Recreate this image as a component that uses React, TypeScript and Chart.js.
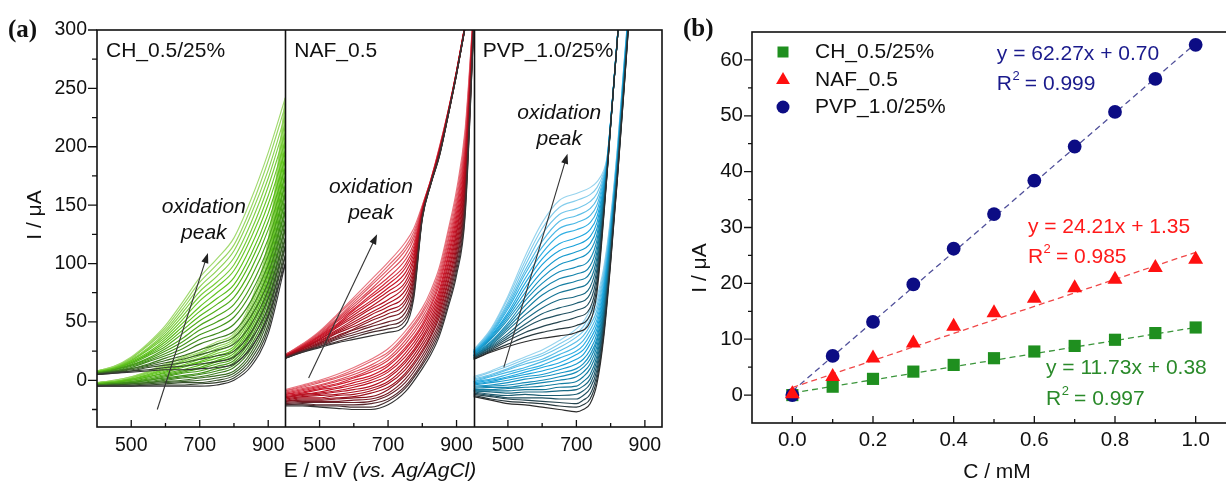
import React, { useEffect, useRef } from 'react';
import { Chart, registerables } from 'chart.js';

Chart.register(...registerables);

const FONT = '"Liberation Sans", Arial, Helvetica, sans-serif';
const SERIF = '"Liberation Serif", "Times New Roman", serif';

// ---------------- Panel (a): cyclic voltammograms ----------------
const SUB_TITLES = ['CH_0.5/25%', 'NAF_0.5', 'PVP_1.0/25%'];
const E_MIN = 400;
const E_MAX = 950;
const E_TICKS = [500, 700, 900];
const E_MINOR_TICKS = [600, 800];
const I_MIN = -40;
const I_MAX = 300;
const I_TICKS = [0, 50, 100, 150, 200, 250, 300];
const I_MINOR_TICKS = [-25, 25, 75, 125, 175, 225, 275];

// CH_0.5/25%  (forward = upper branch with oxidation peak, reverse = lower branch)
const CH_E = [400, 450, 500, 550, 600, 650, 700, 750, 800, 850, 900, 950];
const CH_FWD = [
  [5, 6, 7, 8, 9, 9, 10, 11, 14, 28, 55, 100],
  [5, 6, 8, 9, 11, 12, 14, 16, 20, 35, 62, 107],
  [5, 7, 8, 11, 13, 15, 18, 21, 25, 41, 70, 115],
  [5, 7, 9, 12, 15, 18, 22, 26, 31, 48, 77, 122],
  [6, 7, 10, 13, 17, 21, 26, 31, 37, 55, 84, 130],
  [6, 8, 10, 14, 19, 24, 31, 36, 42, 61, 92, 137],
  [6, 8, 11, 16, 21, 27, 35, 40, 48, 68, 99, 145],
  [6, 8, 12, 17, 23, 30, 39, 45, 54, 75, 107, 152],
  [6, 9, 13, 18, 25, 33, 43, 50, 59, 81, 114, 160],
  [6, 9, 13, 19, 27, 36, 47, 55, 65, 88, 121, 167],
  [7, 9, 14, 21, 29, 40, 51, 60, 71, 95, 129, 175],
  [7, 9, 15, 22, 31, 43, 55, 65, 77, 102, 136, 182],
  [7, 10, 15, 23, 33, 46, 59, 70, 82, 108, 143, 190],
  [7, 10, 16, 24, 35, 49, 63, 75, 88, 115, 151, 197],
  [7, 10, 17, 26, 37, 52, 68, 80, 94, 122, 158, 205],
  [7, 11, 17, 27, 39, 55, 72, 84, 99, 128, 166, 212],
  [8, 11, 18, 28, 41, 58, 76, 89, 105, 135, 173, 220],
  [8, 11, 19, 30, 43, 61, 80, 94, 111, 142, 180, 227],
  [8, 12, 19, 31, 45, 64, 84, 99, 116, 148, 188, 235],
  [8, 12, 20, 32, 47, 67, 88, 104, 122, 155, 195, 242],
];
const CH_REV = [
  [-5, -5, -5, -5, -5, -5, -5, -4, 0, 12, 40, 100],
  [-5, -5, -5, -4, -4, -4, -3, -2, 2, 15, 44, 107],
  [-5, -4, -4, -4, -3, -2, -2, 0, 4, 18, 48, 115],
  [-5, -4, -4, -3, -2, -1, 0, 2, 6, 21, 53, 122],
  [-4, -4, -3, -2, -1, 0, 2, 4, 8, 24, 57, 130],
  [-4, -4, -3, -2, 0, 2, 3, 6, 11, 27, 61, 137],
  [-4, -3, -2, -1, 1, 3, 5, 8, 13, 30, 65, 145],
  [-4, -3, -2, 0, 2, 4, 6, 10, 15, 33, 70, 152],
  [-4, -3, -2, 0, 3, 6, 8, 12, 17, 36, 74, 160],
  [-4, -3, -1, 1, 4, 7, 10, 14, 19, 39, 78, 167],
  [-3, -2, -1, 2, 5, 8, 11, 16, 21, 41, 82, 175],
  [-3, -2, 0, 3, 6, 9, 13, 17, 23, 44, 86, 182],
  [-3, -2, 0, 3, 7, 11, 15, 19, 25, 47, 91, 190],
  [-3, -2, 1, 4, 8, 12, 16, 21, 27, 50, 95, 197],
  [-3, -1, 1, 5, 9, 13, 18, 23, 29, 53, 99, 205],
  [-3, -1, 1, 5, 10, 15, 19, 25, 32, 56, 103, 212],
  [-2, -1, 2, 6, 11, 16, 21, 27, 34, 59, 107, 220],
  [-2, -1, 2, 7, 12, 17, 23, 29, 36, 62, 112, 227],
  [-2, 0, 3, 7, 13, 19, 24, 31, 38, 65, 116, 235],
  [-2, 0, 3, 8, 14, 20, 26, 33, 40, 68, 120, 242],
];

// NAF_0.5
const NAF_E_FWD = [400, 450, 500, 550, 600, 650, 700, 750, 775, 800, 825, 850, 875, 900, 925, 950];
const NAF_FWD = [
  [19, 24, 28, 32, 35, 38, 41, 47, 70, 138, 168, 192, 226, 262, 302, 343],
  [19, 24, 29, 33, 37, 41, 44, 51, 73, 139, 168, 192, 226, 262, 302, 343],
  [19, 25, 29, 35, 39, 43, 47, 54, 76, 139, 168, 193, 226, 262, 302, 343],
  [19, 25, 30, 36, 41, 46, 50, 58, 79, 140, 169, 193, 226, 262, 302, 343],
  [20, 25, 31, 37, 43, 48, 54, 62, 83, 141, 169, 193, 227, 263, 303, 344],
  [20, 26, 32, 38, 44, 51, 57, 66, 86, 141, 169, 194, 227, 263, 303, 344],
  [20, 26, 32, 40, 46, 53, 60, 69, 89, 142, 169, 195, 227, 263, 303, 344],
  [20, 27, 33, 41, 48, 56, 63, 73, 92, 142, 169, 195, 227, 263, 303, 344],
  [20, 27, 34, 42, 50, 58, 66, 77, 95, 143, 170, 195, 228, 263, 303, 344],
  [20, 27, 35, 43, 52, 61, 69, 81, 98, 144, 170, 196, 228, 263, 303, 344],
  [21, 28, 35, 45, 54, 63, 73, 84, 102, 144, 170, 196, 228, 264, 304, 344],
  [21, 28, 36, 46, 56, 66, 76, 88, 105, 145, 170, 196, 228, 264, 304, 344],
  [21, 28, 37, 47, 58, 68, 79, 92, 108, 146, 171, 197, 228, 264, 304, 344],
  [21, 29, 38, 48, 60, 71, 82, 96, 111, 146, 171, 197, 229, 264, 304, 344],
  [21, 29, 38, 50, 61, 73, 85, 99, 114, 147, 171, 198, 229, 264, 304, 344],
  [21, 30, 39, 51, 63, 76, 88, 103, 117, 147, 171, 198, 229, 264, 304, 344],
  [22, 30, 40, 52, 65, 78, 92, 107, 121, 148, 171, 198, 229, 265, 305, 345],
  [22, 30, 41, 53, 67, 81, 95, 111, 124, 149, 172, 199, 230, 265, 305, 345],
  [22, 31, 41, 55, 69, 83, 98, 114, 127, 149, 172, 199, 230, 265, 305, 345],
  [22, 31, 42, 56, 71, 86, 101, 118, 130, 150, 172, 200, 230, 265, 305, 345],
];
const NAF_E_REV = [400, 450, 500, 550, 600, 650, 700, 750, 800, 825, 850, 875, 900, 925, 950];
const NAF_REV = [
  [-22, -22, -23, -24, -25, -25, -21, -10, 10, 22, 38, 62, 90, 140, 300],
  [-21, -21, -22, -22, -23, -23, -18, -7, 13, 25, 41, 65, 94, 144, 301],
  [-21, -20, -21, -21, -21, -20, -16, -5, 15, 28, 44, 69, 98, 148, 302],
  [-20, -19, -19, -19, -19, -18, -13, -2, 18, 31, 47, 72, 102, 152, 303],
  [-19, -18, -18, -18, -17, -16, -11, 1, 21, 34, 50, 76, 105, 156, 304],
  [-18, -17, -17, -16, -15, -14, -8, 4, 24, 37, 54, 79, 109, 160, 305],
  [-18, -16, -16, -15, -14, -11, -6, 6, 26, 39, 57, 83, 113, 164, 306],
  [-17, -15, -15, -13, -12, -9, -3, 9, 29, 42, 60, 86, 117, 168, 307],
  [-16, -14, -13, -12, -10, -7, -1, 12, 32, 45, 63, 90, 121, 172, 308],
  [-15, -13, -12, -10, -8, -5, 2, 15, 35, 48, 66, 93, 125, 176, 309],
  [-15, -12, -11, -9, -6, -2, 4, 17, 37, 51, 69, 97, 128, 180, 311],
  [-14, -12, -10, -7, -4, 0, 7, 20, 40, 54, 72, 100, 132, 183, 312],
  [-13, -11, -8, -6, -2, 2, 9, 23, 43, 57, 75, 104, 136, 187, 313],
  [-12, -10, -7, -4, 0, 4, 12, 26, 46, 60, 78, 107, 140, 191, 314],
  [-12, -9, -6, -3, 2, 7, 14, 28, 48, 63, 82, 111, 144, 195, 315],
  [-11, -8, -5, -1, 3, 9, 17, 31, 51, 65, 85, 114, 148, 199, 316],
  [-10, -7, -4, 0, 5, 11, 19, 34, 54, 68, 88, 118, 151, 203, 317],
  [-9, -6, -2, 2, 7, 13, 22, 37, 57, 71, 91, 121, 155, 207, 318],
  [-9, -5, -1, 3, 9, 16, 24, 39, 59, 74, 94, 125, 159, 211, 319],
  [-8, -4, 0, 5, 11, 18, 27, 42, 62, 77, 97, 128, 163, 215, 320],
];

// PVP_1.0/25%
const PVP_E_FWD = [400, 450, 500, 550, 600, 650, 700, 740, 760, 780, 790, 800, 810, 820, 830];
const PVP_FWD = [
  [18, 24, 29, 33, 36, 38, 41, 50, 75, 140, 178, 218, 256, 293, 332],
  [18, 25, 31, 37, 41, 44, 47, 56, 80, 142, 179, 218, 256, 293, 332],
  [19, 26, 34, 41, 46, 50, 54, 62, 85, 144, 179, 218, 256, 293, 332],
  [19, 27, 36, 45, 52, 56, 60, 68, 90, 146, 180, 219, 256, 293, 332],
  [20, 28, 38, 48, 57, 62, 66, 74, 95, 148, 181, 219, 256, 293, 332],
  [20, 29, 40, 52, 62, 69, 72, 80, 100, 151, 182, 219, 257, 294, 333],
  [21, 30, 43, 56, 67, 75, 79, 86, 105, 153, 182, 219, 257, 294, 333],
  [21, 31, 45, 60, 73, 81, 85, 92, 110, 155, 183, 219, 257, 294, 333],
  [21, 32, 47, 64, 78, 87, 91, 98, 115, 157, 184, 220, 257, 294, 333],
  [22, 33, 49, 68, 83, 93, 97, 104, 120, 159, 185, 220, 257, 294, 333],
  [22, 35, 52, 71, 88, 99, 104, 111, 125, 161, 185, 220, 257, 294, 333],
  [23, 36, 54, 75, 93, 105, 110, 117, 130, 163, 186, 220, 257, 294, 333],
  [23, 37, 56, 79, 99, 111, 116, 123, 135, 165, 187, 221, 257, 294, 333],
  [24, 38, 58, 83, 104, 117, 122, 129, 140, 167, 188, 221, 257, 294, 333],
  [24, 39, 61, 87, 109, 124, 129, 135, 145, 170, 188, 221, 257, 294, 333],
  [24, 40, 63, 91, 114, 130, 135, 141, 150, 172, 189, 221, 258, 295, 334],
  [25, 41, 65, 94, 119, 136, 141, 147, 155, 174, 190, 221, 258, 295, 334],
  [25, 42, 67, 98, 125, 142, 147, 153, 160, 176, 191, 222, 258, 295, 334],
  [26, 43, 70, 102, 130, 148, 154, 159, 165, 178, 191, 222, 258, 295, 334],
  [26, 44, 72, 106, 135, 154, 160, 165, 170, 180, 192, 222, 258, 295, 334],
];
const PVP_E_REV = [400, 450, 500, 550, 600, 650, 700, 720, 740, 760, 780, 800, 820, 840, 860];
const PVP_REV = [
  [-14, -17, -20, -21, -23, -25, -27, -25, -20, -3, 37, 100, 173, 252, 335],
  [-13, -16, -18, -19, -20, -22, -23, -21, -16, 1, 40, 102, 174, 253, 336],
  [-12, -14, -16, -17, -18, -19, -20, -17, -12, 5, 43, 104, 176, 254, 336],
  [-11, -13, -15, -15, -15, -16, -16, -13, -7, 9, 47, 106, 177, 256, 337],
  [-10, -12, -13, -12, -13, -13, -12, -9, -3, 13, 50, 108, 179, 257, 337],
  [-9, -10, -11, -10, -10, -9, -8, -5, 1, 17, 53, 111, 180, 258, 338],
  [-9, -9, -9, -8, -8, -6, -5, -1, 5, 21, 56, 113, 182, 259, 338],
  [-8, -8, -7, -6, -5, -3, -1, 3, 10, 25, 59, 115, 183, 261, 339],
  [-7, -6, -6, -4, -2, 0, 3, 7, 14, 29, 62, 117, 184, 262, 339],
  [-6, -5, -4, -2, 0, 3, 7, 11, 18, 33, 65, 119, 186, 263, 340],
  [-5, -4, -2, 1, 3, 6, 10, 14, 22, 36, 69, 121, 187, 264, 340],
  [-4, -2, 0, 3, 5, 9, 14, 18, 26, 40, 72, 123, 189, 265, 341],
  [-3, -1, 2, 5, 8, 12, 18, 22, 31, 44, 75, 125, 190, 267, 341],
  [-2, 0, 3, 7, 11, 15, 22, 26, 35, 48, 78, 127, 191, 268, 342],
  [-1, 1, 5, 9, 13, 19, 25, 30, 39, 52, 81, 130, 193, 269, 342],
  [-1, 3, 7, 11, 16, 22, 29, 34, 43, 56, 84, 132, 194, 270, 343],
  [0, 4, 9, 14, 18, 25, 33, 38, 47, 60, 88, 134, 196, 271, 343],
  [1, 5, 10, 16, 21, 28, 37, 42, 52, 64, 91, 136, 197, 273, 344],
  [2, 7, 12, 18, 23, 31, 40, 46, 56, 68, 94, 138, 199, 274, 344],
  [3, 8, 14, 20, 26, 34, 44, 50, 60, 72, 97, 140, 200, 275, 345],
];

// colour ramps (dark -> saturated -> light) for the scan sequence
const CH_RAMP = ['#343434', '#3f8f1a', '#5cc218', '#a2da70'];
const NAF_RAMP = ['#343434', '#a00c1a', '#cc1628', '#e87680'];
const PVP_RAMP = ['#2c2c2c', '#14789a', '#18a6e0', '#98d4ee'];

// annotation anchors (E in mV, I in uA)
const ARROW_TAIL = [[576, -25], [468, 2], [488, 11]];
const ARROW_HEAD = [[724, 109], [668, 125], [674, 194]];
const LABEL_AT = [[712, 148], [650, 165], [650, 229]];

// ---------------- Panel (b): calibration ----------------
const CONC = [0, 0.1, 0.2, 0.3, 0.4, 0.5, 0.6, 0.7, 0.8, 0.9, 1.0];
const CH_PEAK = [0, 1.5, 2.9, 4.2, 5.4, 6.6, 7.8, 8.8, 9.9, 11.1, 12.1];
const NAF_PEAK = [0.2, 3.3, 6.6, 9.3, 12.3, 14.7, 17.3, 19.2, 20.7, 22.8, 24.3];
const PVP_PEAK = [0, 7.0, 13.1, 19.8, 26.2, 32.4, 38.4, 44.5, 50.7, 56.6, 62.7];
const FIT_X = [0, 1.0];
const CH_FIT = [0.38, 12.11];
const NAF_FIT = [1.35, 25.56];
const PVP_FIT = [0.70, 62.97];
const SERIES_NAMES = ['CH_0.5/25%', 'NAF_0.5', 'PVP_1.0/25%'];
const C_TICKS = [0, 0.2, 0.4, 0.6, 0.8, 1.0];
const C_MINOR_TICKS = [0.1, 0.3, 0.5, 0.7, 0.9];
const IB_TICKS = [0, 10, 20, 30, 40, 50, 60];
const IB_MINOR_TICKS = [5, 15, 25, 35, 45, 55];
const EQ_TEXT = [
  ['y = 11.73x + 0.38', '0.997'],
  ['y = 24.21x + 1.35', '0.985'],
  ['y = 62.27x + 0.70', '0.999'],
];
const EQ_AT = [[0.629, 4.8, -0.7], [0.584, 30.1, 24.7], [0.507, 61.1, 55.7]];

const GREEN = '#1f8f1f';
const RED = '#ff1010';
const NAVY = '#0c0c84';

// ---------------- helpers ----------------
function hexToRgb(h: string) {
  const n = parseInt(h.slice(1), 16);
  return [(n >> 16) & 255, (n >> 8) & 255, n & 255];
}
function ramp(stops: string[], t: number) {
  const seg = (stops.length - 1) * t;
  const i = Math.min(stops.length - 2, Math.floor(seg));
  const f = seg - i;
  const a = hexToRgb(stops[i]);
  const b = hexToRgb(stops[i + 1]);
  const c = a.map((v, j) => Math.round(v + (b[j] - v) * f));
  return `rgb(${c[0]},${c[1]},${c[2]})`;
}

const SPAN = E_MAX - E_MIN;

const PANELS = [
  { eF: CH_E, fwd: CH_FWD, eR: CH_E, rev: CH_REV, ramp: CH_RAMP },
  { eF: NAF_E_FWD, fwd: NAF_FWD, eR: NAF_E_REV, rev: NAF_REV, ramp: NAF_RAMP },
  { eF: PVP_E_FWD, fwd: PVP_FWD, eR: PVP_E_REV, rev: PVP_REV, ramp: PVP_RAMP },
];

function cvDatasets() {
  const out: any[] = [];
  PANELS.forEach((p, pi) => {
    const off = pi * SPAN - E_MIN;
    const n = p.fwd.length;
    for (let k = 0; k < n; k++) {
      const color = ramp(p.ramp, k / (n - 1));
      const common = {
        borderColor: color,
        borderWidth: 1.15,
        pointRadius: 0,
        fill: false,
        cubicInterpolationMode: 'monotone',
      };
      out.push({ ...common, data: p.eF.map((e, i) => ({ x: e + off, y: p.fwd[k][i] })) });
      out.push({ ...common, data: p.eR.map((e, i) => ({ x: e + off, y: p.rev[k][i] })) });
    }
  });
  return out;
}

function drawArrow(ctx: CanvasRenderingContext2D, x1: number, y1: number, x2: number, y2: number) {
  const ang = Math.atan2(y2 - y1, x2 - x1);
  const L = 10, W = 3.6;
  ctx.beginPath();
  ctx.moveTo(x1, y1);
  ctx.lineTo(x2 - Math.cos(ang) * L * 0.8, y2 - Math.sin(ang) * L * 0.8);
  ctx.stroke();
  ctx.beginPath();
  ctx.moveTo(x2, y2);
  ctx.lineTo(x2 - Math.cos(ang) * L - Math.sin(ang) * W, y2 - Math.sin(ang) * L + Math.cos(ang) * W);
  ctx.lineTo(x2 - Math.cos(ang) * L + Math.sin(ang) * W, y2 - Math.sin(ang) * L - Math.cos(ang) * W);
  ctx.closePath();
  ctx.fill();
}

const cvDecor = {
  id: 'cvDecor',
  afterDraw(chart: any) {
    const { ctx, chartArea: a } = chart;
    const xs = chart.scales.x;
    const ys = chart.scales.y;
    const px = (p: number, e: number) => xs.getPixelForValue(p * SPAN + e - E_MIN);
    const py = (v: number) => ys.getPixelForValue(v);
    ctx.save();
    ctx.strokeStyle = '#111';
    ctx.lineWidth = 1.6;
    ctx.strokeRect(a.left, a.top, a.right - a.left, a.bottom - a.top);
    ctx.beginPath();
    for (let p = 1; p < 3; p++) {
      const x = Math.round(xs.getPixelForValue(p * SPAN)) + 0.5;
      ctx.moveTo(x, a.top);
      ctx.lineTo(x, a.bottom);
    }
    ctx.stroke();
    ctx.lineWidth = 1.3;
    ctx.beginPath();
    I_TICKS.forEach((v) => { const y = py(v); ctx.moveTo(a.left - 9, y); ctx.lineTo(a.left, y); });
    I_MINOR_TICKS.forEach((v) => { const y = py(v); ctx.moveTo(a.left - 5, y); ctx.lineTo(a.left, y); });
    for (let p = 0; p < 3; p++) {
      E_TICKS.forEach((e) => { const x = px(p, e); ctx.moveTo(x, a.bottom); ctx.lineTo(x, a.bottom - 7); });
      E_MINOR_TICKS.forEach((e) => { const x = px(p, e); ctx.moveTo(x, a.bottom); ctx.lineTo(x, a.bottom - 4); });
    }
    ctx.stroke();

    ctx.fillStyle = '#111';
    ctx.font = `19.5px ${FONT}`;
    ctx.textAlign = 'right';
    ctx.textBaseline = 'middle';
    I_TICKS.forEach((v) => ctx.fillText(String(v), a.left - 10, py(v)));
    ctx.textAlign = 'center';
    for (let p = 0; p < 3; p++) {
      E_TICKS.forEach((e) => ctx.fillText(String(e), px(p, e), a.bottom + 19));
    }
    // sub-panel titles
    ctx.font = `21px ${FONT}`;
    ctx.textAlign = 'left';
    SUB_TITLES.forEach((t, p) => ctx.fillText(t, px(p, E_MIN) + 9, 51));
    // arrows and labels
    ctx.strokeStyle = '#333';
    ctx.fillStyle = '#222';
    ctx.lineWidth = 1.1;
    for (let p = 0; p < 3; p++) {
      drawArrow(ctx, px(p, ARROW_TAIL[p][0]), py(ARROW_TAIL[p][1]), px(p, ARROW_HEAD[p][0]), py(ARROW_HEAD[p][1]));
    }
    ctx.fillStyle = '#111';
    ctx.font = `italic 21px ${FONT}`;
    ctx.textAlign = 'center';
    for (let p = 0; p < 3; p++) {
      const x = px(p, LABEL_AT[p][0]);
      const y = py(LABEL_AT[p][1]);
      ctx.fillText('oxidation', x, y);
      ctx.fillText('peak', x, y + 26);
    }
    // axis titles
    ctx.font = `21px ${FONT}`;
    ctx.save();
    ctx.translate(35, 215);
    ctx.rotate(-Math.PI / 2);
    ctx.textAlign = 'center';
    ctx.fillText('I / \u03BCA', 0, 0);
    ctx.restore();
    const part1 = 'E / mV ';
    const part2 = '(vs. Ag/AgCl)';
    ctx.font = `21px ${FONT}`;
    const w1 = ctx.measureText(part1).width;
    ctx.font = `italic 21px ${FONT}`;
    const w2 = ctx.measureText(part2).width;
    const x0 = 380 - (w1 + w2) / 2;
    ctx.textAlign = 'left';
    ctx.font = `21px ${FONT}`;
    ctx.fillText(part1, x0, 471);
    ctx.font = `italic 21px ${FONT}`;
    ctx.fillText(part2, x0 + w1, 471);
    // panel letter
    ctx.font = `bold 25px ${SERIF}`;
    ctx.fillText('(a)', 8, 31);
    ctx.restore();
  },
};

const B_LEFT = 670;

function drawMarker(ctx: CanvasRenderingContext2D, kind: number, x: number, y: number) {
  ctx.beginPath();
  if (kind === 0) {
    ctx.rect(x - 5.5, y - 5.5, 11, 11);
  } else if (kind === 1) {
    const r = 8;
    ctx.moveTo(x, y - r);
    ctx.lineTo(x + r * 0.866, y + r / 2);
    ctx.lineTo(x - r * 0.866, y + r / 2);
    ctx.closePath();
  } else {
    ctx.arc(x, y, 6.5, 0, Math.PI * 2);
  }
  ctx.fill();
}

const calDecor = {
  id: 'calDecor',
  afterDraw(chart: any) {
    const { ctx, chartArea: a } = chart;
    const xs = chart.scales.x;
    const ys = chart.scales.y;
    ctx.save();
    ctx.strokeStyle = '#111';
    ctx.lineWidth = 1.6;
    ctx.strokeRect(a.left, a.top, a.right - a.left, a.bottom - a.top);
    ctx.lineWidth = 1.3;
    ctx.beginPath();
    IB_TICKS.forEach((v) => { const y = ys.getPixelForValue(v); ctx.moveTo(a.left - 8, y); ctx.lineTo(a.left, y); });
    IB_MINOR_TICKS.forEach((v) => { const y = ys.getPixelForValue(v); ctx.moveTo(a.left - 4, y); ctx.lineTo(a.left, y); });
    C_TICKS.forEach((v) => { const x = xs.getPixelForValue(v); ctx.moveTo(x, a.bottom); ctx.lineTo(x, a.bottom - 7); });
    C_MINOR_TICKS.forEach((v) => { const x = xs.getPixelForValue(v); ctx.moveTo(x, a.bottom); ctx.lineTo(x, a.bottom - 4); });
    ctx.stroke();

    ctx.fillStyle = '#111';
    ctx.font = `20.5px ${FONT}`;
    ctx.textAlign = 'right';
    ctx.textBaseline = 'middle';
    IB_TICKS.forEach((v) => ctx.fillText(String(v), a.left - 9, ys.getPixelForValue(v)));
    ctx.textAlign = 'center';
    C_TICKS.forEach((v) => ctx.fillText(v.toFixed(1), xs.getPixelForValue(v), a.bottom + 17));

    // legend
    const colors = [GREEN, RED, NAVY];
    const ly = [52, 80, 107];
    ctx.font = `21px ${FONT}`;
    ctx.textAlign = 'left';
    SERIES_NAMES.forEach((n, i) => {
      ctx.fillStyle = colors[i];
      drawMarker(ctx, i, 783 - B_LEFT, ly[i]);
      ctx.fillStyle = '#111';
      ctx.fillText(n, 815 - B_LEFT, ly[i]);
    });

    // equations
    const eqColors = ['#2a8a2a', '#ff1a1a', '#1a1a8c'];
    EQ_TEXT.forEach((t, i) => {
      ctx.fillStyle = eqColors[i];
      const x = xs.getPixelForValue(EQ_AT[i][0]);
      ctx.font = `21px ${FONT}`;
      ctx.fillText(t[0], x, ys.getPixelForValue(EQ_AT[i][1]));
      const y2 = ys.getPixelForValue(EQ_AT[i][2]);
      ctx.fillText('R', x, y2);
      const wR = ctx.measureText('R').width;
      ctx.font = `13px ${FONT}`;
      ctx.fillText('2', x + wR + 0.5, y2 - 8);
      ctx.font = `21px ${FONT}`;
      ctx.fillText(' = ' + t[1], x + wR + 7, y2);
    });

    // axis titles
    ctx.fillStyle = '#111';
    ctx.font = `21px ${FONT}`;
    ctx.save();
    ctx.translate(700 - B_LEFT, 268);
    ctx.rotate(-Math.PI / 2);
    ctx.textAlign = 'center';
    ctx.fillText('I / \u03BCA', 0, 0);
    ctx.restore();
    ctx.textAlign = 'center';
    ctx.fillText('C / mM', 997 - B_LEFT, 472);
    ctx.textAlign = 'left';
    ctx.font = `bold 25px ${SERIF}`;
    ctx.fillText('(b)', 683 - B_LEFT, 30);
    ctx.restore();
  },
};

function pts(xv: number[], yv: number[]) {
  return xv.map((x, i) => ({ x, y: yv[i] }));
}

export default function App() {
  const refA = useRef<HTMLCanvasElement>(null);
  const refB = useRef<HTMLCanvasElement>(null);

  useEffect(() => {
    const chartA = new Chart(refA.current as HTMLCanvasElement, {
      type: 'line',
      data: { datasets: cvDatasets() },
      options: {
        animation: false,
        responsive: false,
        devicePixelRatio: 1,
        events: [],
        layout: { padding: { left: 97, right: 680 - 662, top: 30, bottom: 488 - 427 } },
        scales: {
          x: { type: 'linear', min: 0, max: 3 * SPAN, display: false },
          y: { type: 'linear', min: I_MIN, max: I_MAX, display: false },
        },
        plugins: { legend: { display: false }, tooltip: { enabled: false } },
      },
      plugins: [cvDecor],
    } as any);

    const fitStyle = { showLine: true, pointRadius: 0, borderWidth: 1.3, borderDash: [6, 4], fill: false, order: 5 };
    const chartB = new Chart(refB.current as HTMLCanvasElement, {
      type: 'line',
      data: {
        datasets: [
          { ...fitStyle, data: pts(FIT_X, CH_FIT), borderColor: '#3c963c' },
          { ...fitStyle, data: pts(FIT_X, NAF_FIT), borderColor: '#f04848' },
          { ...fitStyle, data: pts(FIT_X, PVP_FIT), borderColor: '#50509a' },
          {
            label: SERIES_NAMES[0], data: pts(CONC, CH_PEAK), showLine: false, pointStyle: 'rect',
            pointRadius: 8.6, backgroundColor: GREEN, borderColor: GREEN, pointBorderWidth: 0, order: 3,
          },
          {
            label: SERIES_NAMES[2], data: pts(CONC, PVP_PEAK), showLine: false, pointStyle: 'circle',
            pointRadius: 6.9, backgroundColor: NAVY, borderColor: NAVY, pointBorderWidth: 0, order: 2,
          },
          {
            label: SERIES_NAMES[1], data: pts(CONC, NAF_PEAK), showLine: false, pointStyle: 'triangle',
            pointRadius: 8.6, backgroundColor: RED, borderColor: RED, pointBorderWidth: 0, order: 1,
          },
        ],
      },
      options: {
        animation: false,
        responsive: false,
        devicePixelRatio: 1,
        events: [],
        layout: { padding: { left: 82, right: 580 - 566, top: 32, bottom: 488 - 423 } },
        scales: {
          x: { type: 'linear', min: -0.1, max: 1.1, display: false },
          y: { type: 'linear', min: -5, max: 65, display: false },
        },
        plugins: { legend: { display: false }, tooltip: { enabled: false } },
      },
      plugins: [calDecor],
    } as any);

    return () => {
      chartA.destroy();
      chartB.destroy();
    };
  }, []);

  return (
    <div style={{ position: 'fixed', left: 0, top: 0, width: 1226, height: 488, overflow: 'hidden', background: '#fff' }}>
      <canvas ref={refA} width={680} height={488} style={{ position: 'absolute', left: 0, top: 0, width: 680, height: 488 }} />
      <canvas ref={refB} width={580} height={488} style={{ position: 'absolute', left: B_LEFT, top: 0, width: 580, height: 488 }} />
    </div>
  );
}
